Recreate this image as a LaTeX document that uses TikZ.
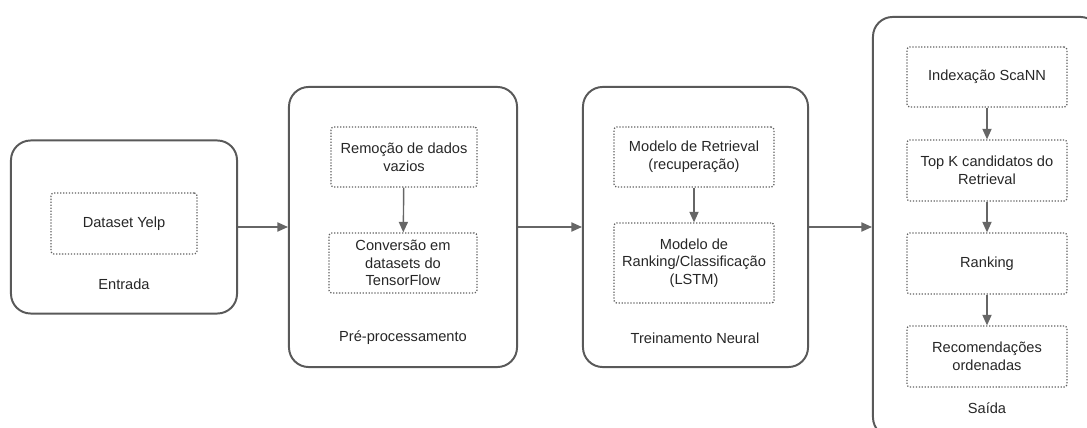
\documentclass[tikz,border=0pt]{standalone}
\usepackage{fontspec}
\setmainfont{Liberation Sans}
\usetikzlibrary{arrows.meta}

\begin{document}
\begin{tikzpicture}[x=0.025cm, y=-0.025cm,
		every node/.style={font=\fontsize{10.4}{12.5}\selectfont, text=black!85},
		stage/.style={draw=black!65, line width=1.4pt, rounded corners=14pt, inner sep=0pt},
		task/.style={draw=black!62, line width=0.9pt, dash pattern=on 0.9pt off 1.2pt, rounded corners=2pt, align=center, inner sep=0pt},
		flow/.style={draw=black!60, line width=1pt, -{Triangle[length=7.5pt, width=6.5pt]}}]
				\clip (0,0) rectangle (1087,428);
				% etapas
				\node[stage, minimum width=5.65cm, minimum height=4.325cm] (entrada)at(124, 227) {};
				\node[stage, minimum width=5.7cm, minimum height=7cm] (prep)at(403, 227) {};
				\node[stage, minimum width=5.625cm, minimum height=7cm] (treino)at(695.5, 227) {};
				\node[stage, minimum width=5.675cm, minimum height=10.5cm] (saida)at(986.5, 227) {};
				\node (lentrada)at(124, 284) {Entrada};
				\node (lprep)at(403, 338) {Pré-processamento};
				\node (ltreino)at(695, 338) {Treinamento Neural};
				\node (lsaida)at(987, 408) {Saída};
				% tarefas
				\node[task, minimum width=3.65cm, minimum height=1.525cm] (yelp)at(124, 223.5) {Dataset Yelp};
				\node[task, minimum width=3.65cm, minimum height=1.5cm] (remocao)at(404, 157) {Remoção de dados\\vazios};
				\node[task, minimum width=3.7cm, minimum height=1.5cm] (conversao)at(403, 263) {Conversão em\\datasets do\\TensorFlow};
				\node[task, minimum width=4cm, minimum height=1.5cm] (retrieval)at(694, 157) {Modelo de Retrieval\\(recuperação)};
				\node[task, minimum width=4cm, minimum height=2cm] (lstm)at(694, 263) {Modelo de\\Ranking/Classificação\\(LSTM)};
				\node[task, minimum width=4cm, minimum height=1.5cm] (scann)at(987, 77) {Indexação ScaNN};
				\node[task, minimum width=4cm, minimum height=1.525cm] (topk)at(987, 170.5) {Top K candidatos do\\Retrieval};
				\node[task, minimum width=4cm, minimum height=1.525cm] (ranking)at(987, 263.5) {Ranking};
				\node[task, minimum width=4cm, minimum height=1.525cm] (recom)at(987, 356.5) {Recomendações\\ordenadas};
				% ligacoes
				\draw[flow] (entrada.east) -- (prep.west);
				\draw[flow] (prep.east) -- (treino.west);
				\draw[flow] (treino.east) -- (saida.west);
				\draw[flow] (remocao) -- (conversao);
				\draw[flow] (retrieval) -- (lstm);
				\draw[flow] (scann) -- (topk);
				\draw[flow] (topk) -- (ranking);
				\draw[flow] (ranking) -- (recom);
			\end{tikzpicture}
\end{document}
